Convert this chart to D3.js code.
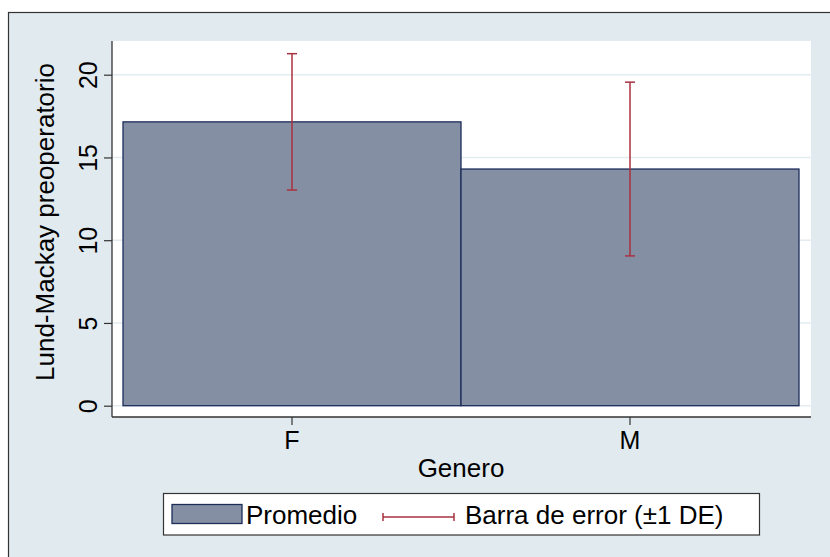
<!DOCTYPE html>
<html>
<head>
<meta charset="utf-8">
<script src="https://cdn.jsdelivr.net/npm/d3@7"></script>
<style>
  body { margin: 0; background: #fff; }
  text { font-family: "Liberation Sans", Arial, Helvetica, sans-serif; fill: #000; }
</style>
</head>
<body>
<div id="chart"></div>
<script>
// data
const categories = ["F", "M"];
const means = [17.15, 14.3];
const sds = [4.12, 5.25];
const yTicks = [0, 5, 10, 15, 20];

const W = 830, H = 557;
const plot = {left: 112, top: 41, right: 811, bottom: 417};

const svg = d3.select("#chart").append("svg")
    .attr("width", W)
    .attr("height", H);

// graph region (light bluish background with a frame)
svg.append("rect")
    .attr("x", 8.5).attr("y", 12.5)
    .attr("width", W).attr("height", H)
    .style("fill", "#e0eaef")
    .style("stroke", "#333")
    .style("stroke-width", 1.2);

// plot region
svg.append("rect")
    .attr("x", plot.left).attr("y", plot.top)
    .attr("width", plot.right - plot.left).attr("height", plot.bottom - plot.top)
    .style("fill", "#fff");

const y = d3.scaleLinear()
    .domain([0, 20])
    .range([405.7, 74.7]);

const x = d3.scaleBand()
    .domain(categories)
    .range([123, 799])
    .padding(0);

// grid lines
svg.append("g")
  .selectAll("line")
  .data(yTicks)
  .enter()
  .append("line")
    .attr("x1", plot.left).attr("x2", plot.right)
    .attr("y1", d => y(d)).attr("y2", d => y(d))
    .style("stroke", "#e3ecf0")
    .style("stroke-width", 1.5);

const rows = categories.map((c, i) => ({cat: c, mean: means[i], sd: sds[i]}));

// bars
svg.append("g")
  .selectAll("rect")
  .data(rows)
  .enter()
  .append("rect")
    .attr("x", d => x(d.cat))
    .attr("y", d => y(d.mean))
    .attr("width", x.bandwidth())
    .attr("height", d => y(0) - y(d.mean))
    .style("fill", "#858fa3")
    .style("stroke", "#1c2d5a")
    .style("stroke-width", 1.3);

// error bars (+-1 SD)
const errCol = "#a8323f";
const eb = svg.append("g");
rows.forEach(d => {
  const cx = x(d.cat) + x.bandwidth() / 2;
  eb.append("line")
    .attr("x1", cx).attr("x2", cx)
    .attr("y1", y(d.mean + d.sd)).attr("y2", y(d.mean - d.sd))
    .style("stroke", errCol).style("stroke-width", 1.5);
  [d.mean + d.sd, d.mean - d.sd].forEach(v => {
    eb.append("line")
      .attr("x1", cx - 5).attr("x2", cx + 5)
      .attr("y1", y(v)).attr("y2", y(v))
      .style("stroke", errCol).style("stroke-width", 1.5);
  });
});

// y axis
const yAxis = svg.append("g")
    .attr("transform", `translate(${plot.left},0)`)
    .call(d3.axisLeft(y).tickValues(yTicks).tickSize(8).tickPadding(0));
yAxis.select(".domain").remove();
yAxis.append("line")
    .attr("y1", plot.top).attr("y2", plot.bottom)
    .style("stroke", "#333").style("stroke-width", 1.3);
yAxis.selectAll(".tick line").style("stroke", "#333").style("stroke-width", 1.2);
yAxis.selectAll(".tick text")
    .attr("x", 0).attr("y", 0).attr("dy", null)
    .attr("transform", "translate(-15,0) rotate(-90)")
    .attr("text-anchor", "middle")
    .style("font-size", "25px")
    .style("fill", "#000");

// x axis
const xAxis = svg.append("g")
    .attr("transform", `translate(0,${plot.bottom})`)
    .call(d3.axisBottom(x).tickSize(8).tickPadding(4));
xAxis.select(".domain").remove();
xAxis.append("line")
    .attr("x1", plot.left).attr("x2", plot.right)
    .style("stroke", "#333").style("stroke-width", 1.3);
xAxis.selectAll(".tick line").style("stroke", "#333").style("stroke-width", 1.2);
xAxis.selectAll(".tick text")
    .attr("dy", null).attr("y", 32)
    .style("font-size", "25px")
    .style("fill", "#000");

// axis titles
svg.append("text")
    .attr("transform", "translate(54,222) rotate(-90)")
    .attr("text-anchor", "middle")
    .style("font-size", "26px")
    .text("Lund-Mackay preoperatorio");

svg.append("text")
    .attr("x", 461).attr("y", 477)
    .attr("text-anchor", "middle")
    .style("font-size", "26px")
    .text("Genero");

// legend
const lg = svg.append("g");
lg.append("rect")
    .attr("x", 163.5).attr("y", 493.5)
    .attr("width", 596).attr("height", 41.5)
    .style("fill", "#fff")
    .style("stroke", "#333")
    .style("stroke-width", 1.2);
lg.append("rect")
    .attr("x", 172).attr("y", 504.5)
    .attr("width", 70).attr("height", 19)
    .style("fill", "#858fa3")
    .style("stroke", "#1c2d5a")
    .style("stroke-width", 1.3);
lg.append("text")
    .attr("x", 246).attr("y", 524)
    .style("font-size", "26px")
    .text("Promedio");
lg.append("line")
    .attr("x1", 383).attr("x2", 454)
    .attr("y1", 517).attr("y2", 517)
    .style("stroke", errCol).style("stroke-width", 1.5);
[383, 454].forEach(v => {
  lg.append("line")
    .attr("x1", v).attr("x2", v)
    .attr("y1", 513).attr("y2", 521)
    .style("stroke", errCol).style("stroke-width", 1.5);
});
lg.append("text")
    .attr("x", 465).attr("y", 524)
    .style("font-size", "26px")
    .text("Barra de error (±1 DE)");
</script>
</body>
</html>
